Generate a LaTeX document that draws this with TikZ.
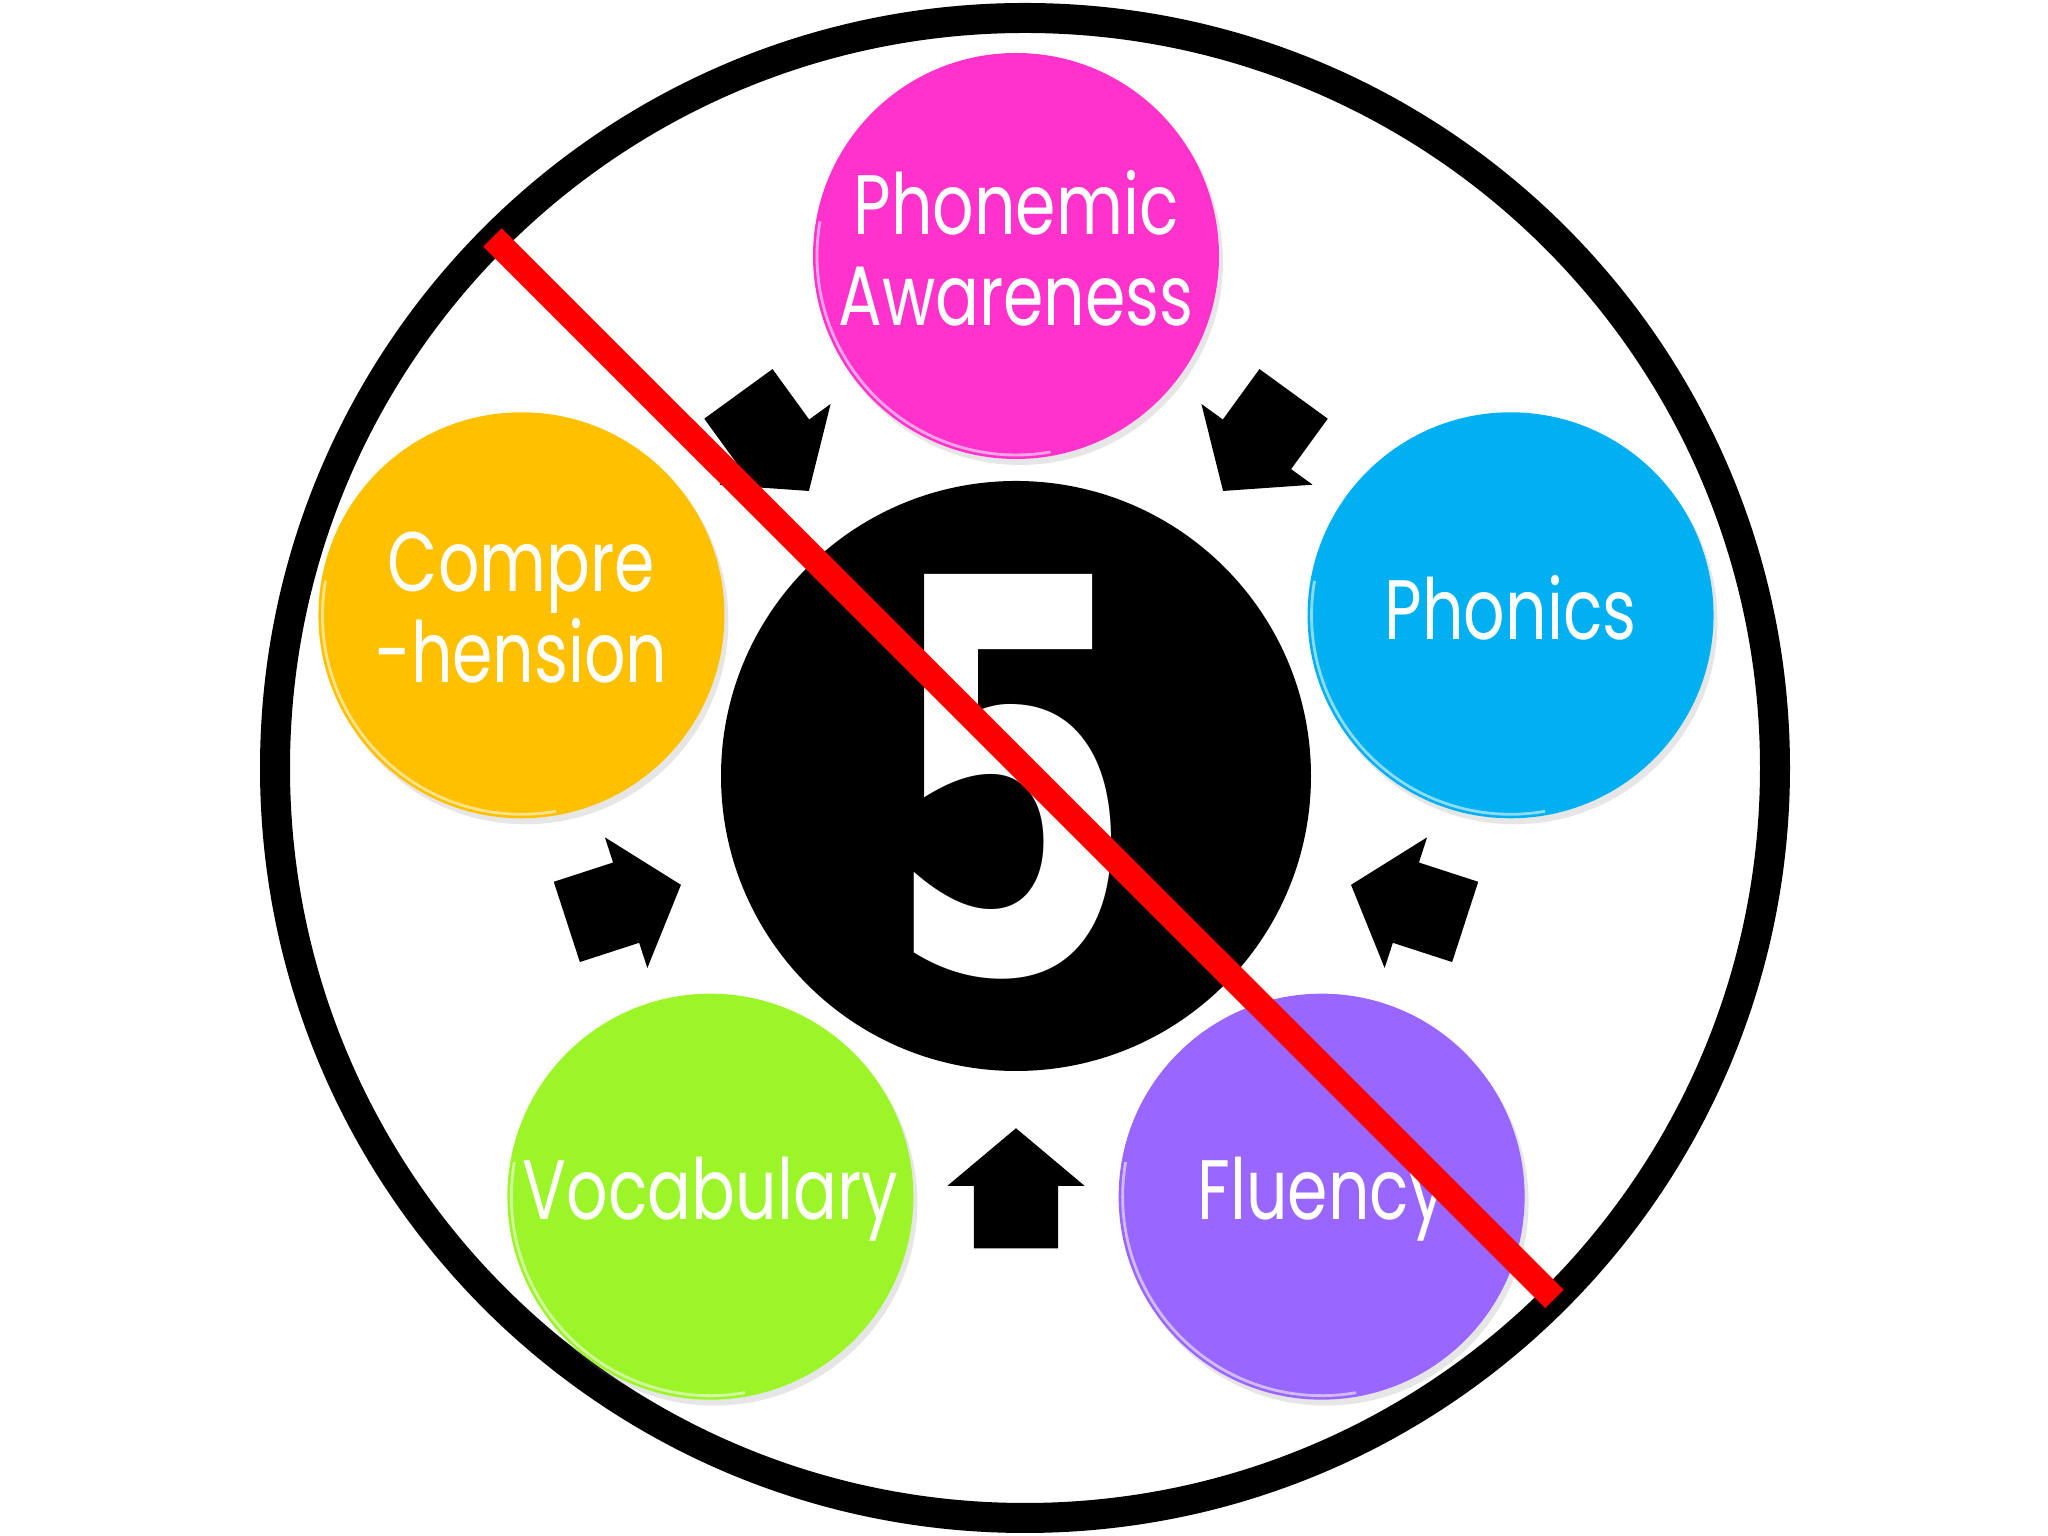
\documentclass[tikz,border=0pt]{standalone}
\usepackage{fontspec}
\usepackage{tikz}
\newfontfamily\labelfont[FakeStretch=0.77]{Poppins}
\newfontfamily\digitfont[FakeStretch=0.66]{DejaVu Sans}
\definecolor{PAPink}{RGB}{255,51,204}
\definecolor{PhonBlue}{RGB}{0,176,240}
\definecolor{FluPurple}{RGB}{153,102,255}
\definecolor{VocGreen}{RGB}{155,245,40}
\definecolor{CompGold}{RGB}{255,192,0}
\definecolor{StrikeRed}{RGB}{255,0,0}
\usetikzlibrary{shapes,shapes.arrows,shadows,positioning}
\tikzset{badge/.style={circle, minimum size=4.06cm, inner sep=0pt, text=white, align=center, text depth=1.1ex,
 font=\labelfont\fontsize{24}{25.8}\selectfont, drop shadow={shadow xshift=0.04cm, shadow yshift=-0.06cm, opacity=0.2}}}
\tikzset{hub/.style={circle, fill=black, minimum size=5.9cm, inner sep=0pt}}
\tikzset{blockarrow/.style={single arrow, fill=black, inner xsep=0pt, inner ysep=0.415cm,
 minimum height=1.2cm, single arrow head extend=0.265cm, single arrow tip angle=100}}
\tikzset{gloss/.style={white, opacity=0.55, line width=0.8pt}}
\tikzset{strike/.style={draw=StrikeRed, line width=0.26cm}}

\begin{document}
\begin{tikzpicture}
        \useasboundingbox (0,0) rectangle (20.48,15.36);
        \node[circle, draw, line width=0.3cm, minimum size=15cm, inner sep=0pt] (ring) at (10.25,7.68) {};
        \node[hub]  (hub) at (10.16,7.60) {};
        \node[text=white, inner sep=0pt, font=\digitfont\bfseries\fontsize{155}{155}\selectfont]
             (five) at (10.12,7.59) {5};

        \node[badge, fill=PAPink]    (pa)   at ([shift={(90:5.2)}]hub.center)   {Phonemic\\Awareness};
        \node[badge, fill=PhonBlue]  (phon) at ([shift={(18:5.2)}]hub.center)   {Phonics};
        \node[badge, fill=FluPurple] (flu)  at ([shift={(-54:5.2)}]hub.center)  {Fluency};
        \node[badge, fill=VocGreen]  (voc)  at ([shift={(-126:5.2)}]hub.center) {Vocabulary};
        \node[badge, fill=CompGold]  (comp) at ([shift={(162:5.2)}]hub.center)  {Compre\\-hension};

        % shiny rim
        \foreach \n in {pa,phon,flu,voc,comp}
          \draw[gloss] (\n.center) ++(170:1.99) arc[start angle=170, end angle=280, radius=1.99];

        % arrows toward the hub
        \foreach \ang/\nm in {126/toleft, 54/toright, -18/fromphon, -90/fromvoc, -162/fromcomp}
          \node[blockarrow, rotate=\ang+180] (\nm) at ([shift={(\ang:4.3)}]hub.center) {};

        \coordinate (crossstart) at (4.925,12.985);
        \coordinate (crossend)   at (15.545,2.37);
        \path[strike] (crossstart) -- (crossend);

      \end{tikzpicture}
\end{document}
